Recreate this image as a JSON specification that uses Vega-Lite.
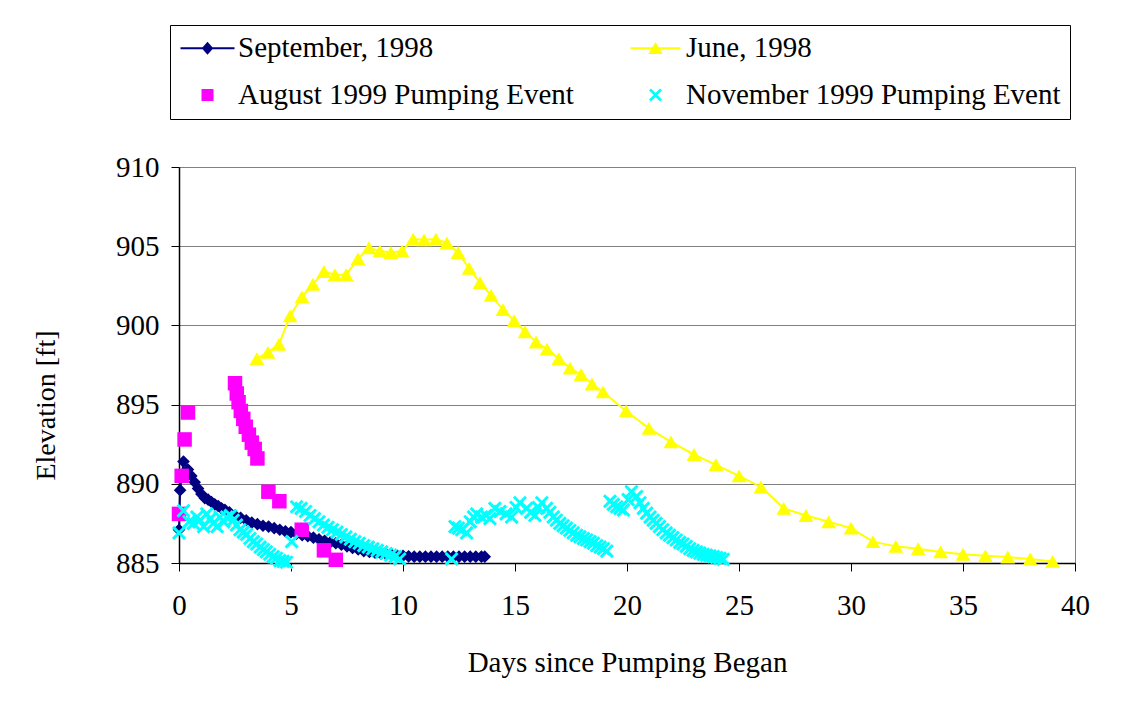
{
  "$schema": "https://vega.github.io/schema/vega-lite/v6.json",
  "width": 896,
  "height": 396,
  "autosize": {"type": "none"},
  "padding": {"left": 179, "top": 167, "right": 55, "bottom": 139},
  "background": "white",
  "config": {
    "font": "Liberation Serif",
    "view": {"stroke": "#808080", "strokeWidth": 1},
    "axis": {
      "labelFont": "Liberation Serif", "titleFont": "Liberation Serif",
      "labelColor": "black", "titleColor": "black",
      "labelFontSize": 29, "titleFontSize": 29, "titleFontWeight": "normal", "labelFlush": false,
      "domainColor": "black", "domainWidth": 1.5, "tickColor": "black", "tickSize": 8, "tickWidth": 1
    }
  },
  "data": {"values": [
    {"series": "September, 1998", "day": 0.0, "elev": 887.1},
    {"series": "September, 1998", "day": 0.05, "elev": 889.6},
    {"series": "September, 1998", "day": 0.2, "elev": 891.4},
    {"series": "September, 1998", "day": 0.4, "elev": 890.9},
    {"series": "September, 1998", "day": 0.55, "elev": 890.5},
    {"series": "September, 1998", "day": 0.7, "elev": 890.1},
    {"series": "September, 1998", "day": 0.85, "elev": 889.7},
    {"series": "September, 1998", "day": 1.0, "elev": 889.35},
    {"series": "September, 1998", "day": 1.15, "elev": 889.1},
    {"series": "September, 1998", "day": 1.3, "elev": 889.0},
    {"series": "September, 1998", "day": 1.45, "elev": 888.85},
    {"series": "September, 1998", "day": 1.6, "elev": 888.7},
    {"series": "September, 1998", "day": 1.75, "elev": 888.6},
    {"series": "September, 1998", "day": 1.9, "elev": 888.45},
    {"series": "September, 1998", "day": 2.05, "elev": 888.35},
    {"series": "September, 1998", "day": 2.25, "elev": 888.2},
    {"series": "September, 1998", "day": 2.5, "elev": 888.0},
    {"series": "September, 1998", "day": 2.75, "elev": 887.85},
    {"series": "September, 1998", "day": 3.0, "elev": 887.7},
    {"series": "September, 1998", "day": 3.25, "elev": 887.55},
    {"series": "September, 1998", "day": 3.5, "elev": 887.45},
    {"series": "September, 1998", "day": 3.75, "elev": 887.35},
    {"series": "September, 1998", "day": 4.0, "elev": 887.3},
    {"series": "September, 1998", "day": 4.25, "elev": 887.2},
    {"series": "September, 1998", "day": 4.5, "elev": 887.1},
    {"series": "September, 1998", "day": 4.75, "elev": 887.0},
    {"series": "September, 1998", "day": 5.0, "elev": 886.95},
    {"series": "September, 1998", "day": 5.25, "elev": 886.85},
    {"series": "September, 1998", "day": 5.5, "elev": 886.75},
    {"series": "September, 1998", "day": 5.75, "elev": 886.7},
    {"series": "September, 1998", "day": 6.0, "elev": 886.6},
    {"series": "September, 1998", "day": 6.25, "elev": 886.5},
    {"series": "September, 1998", "day": 6.5, "elev": 886.4},
    {"series": "September, 1998", "day": 6.75, "elev": 886.3},
    {"series": "September, 1998", "day": 7.0, "elev": 886.25},
    {"series": "September, 1998", "day": 7.25, "elev": 886.15},
    {"series": "September, 1998", "day": 7.5, "elev": 886.05},
    {"series": "September, 1998", "day": 7.75, "elev": 885.95},
    {"series": "September, 1998", "day": 8.0, "elev": 885.85},
    {"series": "September, 1998", "day": 8.25, "elev": 885.75},
    {"series": "September, 1998", "day": 8.5, "elev": 885.7},
    {"series": "September, 1998", "day": 8.75, "elev": 885.65},
    {"series": "September, 1998", "day": 9.0, "elev": 885.6},
    {"series": "September, 1998", "day": 9.25, "elev": 885.55},
    {"series": "September, 1998", "day": 9.5, "elev": 885.5},
    {"series": "September, 1998", "day": 9.75, "elev": 885.45},
    {"series": "September, 1998", "day": 10.0, "elev": 885.45},
    {"series": "September, 1998", "day": 10.25, "elev": 885.42},
    {"series": "September, 1998", "day": 10.5, "elev": 885.4},
    {"series": "September, 1998", "day": 10.75, "elev": 885.4},
    {"series": "September, 1998", "day": 11.0, "elev": 885.4},
    {"series": "September, 1998", "day": 11.25, "elev": 885.4},
    {"series": "September, 1998", "day": 11.5, "elev": 885.4},
    {"series": "September, 1998", "day": 11.75, "elev": 885.4},
    {"series": "September, 1998", "day": 12.0, "elev": 885.4},
    {"series": "September, 1998", "day": 12.25, "elev": 885.4},
    {"series": "September, 1998", "day": 12.5, "elev": 885.4},
    {"series": "September, 1998", "day": 12.75, "elev": 885.4},
    {"series": "September, 1998", "day": 13.0, "elev": 885.4},
    {"series": "September, 1998", "day": 13.25, "elev": 885.4},
    {"series": "September, 1998", "day": 13.5, "elev": 885.4},
    {"series": "September, 1998", "day": 13.65, "elev": 885.4},
    {"series": "June, 1998", "day": 3.48, "elev": 897.9},
    {"series": "June, 1998", "day": 3.97, "elev": 898.3},
    {"series": "June, 1998", "day": 4.46, "elev": 898.8},
    {"series": "June, 1998", "day": 4.96, "elev": 900.6},
    {"series": "June, 1998", "day": 5.49, "elev": 901.8},
    {"series": "June, 1998", "day": 5.98, "elev": 902.6},
    {"series": "June, 1998", "day": 6.47, "elev": 903.4},
    {"series": "June, 1998", "day": 6.96, "elev": 903.2},
    {"series": "June, 1998", "day": 7.46, "elev": 903.2},
    {"series": "June, 1998", "day": 7.99, "elev": 904.2},
    {"series": "June, 1998", "day": 8.48, "elev": 904.9},
    {"series": "June, 1998", "day": 8.97, "elev": 904.7},
    {"series": "June, 1998", "day": 9.46, "elev": 904.6},
    {"series": "June, 1998", "day": 9.96, "elev": 904.7},
    {"series": "June, 1998", "day": 10.45, "elev": 905.45},
    {"series": "June, 1998", "day": 10.94, "elev": 905.4},
    {"series": "June, 1998", "day": 11.47, "elev": 905.45},
    {"series": "June, 1998", "day": 11.96, "elev": 905.2},
    {"series": "June, 1998", "day": 12.46, "elev": 904.6},
    {"series": "June, 1998", "day": 12.95, "elev": 903.6},
    {"series": "June, 1998", "day": 13.44, "elev": 902.7},
    {"series": "June, 1998", "day": 13.93, "elev": 901.9},
    {"series": "June, 1998", "day": 14.46, "elev": 901.0},
    {"series": "June, 1998", "day": 14.96, "elev": 900.3},
    {"series": "June, 1998", "day": 15.45, "elev": 899.6},
    {"series": "June, 1998", "day": 15.94, "elev": 898.95},
    {"series": "June, 1998", "day": 16.43, "elev": 898.5},
    {"series": "June, 1998", "day": 16.96, "elev": 897.9},
    {"series": "June, 1998", "day": 17.46, "elev": 897.3},
    {"series": "June, 1998", "day": 17.95, "elev": 896.9},
    {"series": "June, 1998", "day": 18.44, "elev": 896.3},
    {"series": "June, 1998", "day": 18.93, "elev": 895.8},
    {"series": "June, 1998", "day": 19.96, "elev": 894.6},
    {"series": "June, 1998", "day": 20.98, "elev": 893.5},
    {"series": "June, 1998", "day": 21.96, "elev": 892.65},
    {"series": "June, 1998", "day": 22.99, "elev": 891.85},
    {"series": "June, 1998", "day": 23.97, "elev": 891.2},
    {"series": "June, 1998", "day": 25.0, "elev": 890.5},
    {"series": "June, 1998", "day": 25.98, "elev": 889.8},
    {"series": "June, 1998", "day": 27.0, "elev": 888.45},
    {"series": "June, 1998", "day": 27.99, "elev": 888.0},
    {"series": "June, 1998", "day": 29.0, "elev": 887.6},
    {"series": "June, 1998", "day": 30.0, "elev": 887.2},
    {"series": "June, 1998", "day": 30.98, "elev": 886.35},
    {"series": "June, 1998", "day": 32.0, "elev": 886.05},
    {"series": "June, 1998", "day": 33.0, "elev": 885.9},
    {"series": "June, 1998", "day": 34.0, "elev": 885.7},
    {"series": "June, 1998", "day": 35.0, "elev": 885.55},
    {"series": "June, 1998", "day": 36.0, "elev": 885.45},
    {"series": "June, 1998", "day": 37.0, "elev": 885.38},
    {"series": "June, 1998", "day": 38.0, "elev": 885.25},
    {"series": "June, 1998", "day": 39.0, "elev": 885.1},
    {"series": "August 1999 Pumping Event", "day": 0.0, "elev": 888.1},
    {"series": "August 1999 Pumping Event", "day": 0.12, "elev": 890.5},
    {"series": "August 1999 Pumping Event", "day": 0.25, "elev": 892.8},
    {"series": "August 1999 Pumping Event", "day": 0.4, "elev": 894.5},
    {"series": "August 1999 Pumping Event", "day": 2.5, "elev": 896.35},
    {"series": "August 1999 Pumping Event", "day": 2.58, "elev": 895.7},
    {"series": "August 1999 Pumping Event", "day": 2.66, "elev": 895.15},
    {"series": "August 1999 Pumping Event", "day": 2.76, "elev": 894.6},
    {"series": "August 1999 Pumping Event", "day": 2.87, "elev": 894.1},
    {"series": "August 1999 Pumping Event", "day": 2.98, "elev": 893.6},
    {"series": "August 1999 Pumping Event", "day": 3.12, "elev": 893.1},
    {"series": "August 1999 Pumping Event", "day": 3.25, "elev": 892.6},
    {"series": "August 1999 Pumping Event", "day": 3.38, "elev": 892.2},
    {"series": "August 1999 Pumping Event", "day": 3.5, "elev": 891.6},
    {"series": "August 1999 Pumping Event", "day": 3.99, "elev": 889.5},
    {"series": "August 1999 Pumping Event", "day": 4.48, "elev": 888.9},
    {"series": "August 1999 Pumping Event", "day": 5.48, "elev": 887.1},
    {"series": "August 1999 Pumping Event", "day": 6.47, "elev": 885.8},
    {"series": "August 1999 Pumping Event", "day": 7.0, "elev": 885.2},
    {"series": "November 1999 Pumping Event", "day": 0.0, "elev": 886.9},
    {"series": "November 1999 Pumping Event", "day": 0.2, "elev": 888.3},
    {"series": "November 1999 Pumping Event", "day": 0.45, "elev": 887.6},
    {"series": "November 1999 Pumping Event", "day": 0.64, "elev": 887.5},
    {"series": "November 1999 Pumping Event", "day": 0.8, "elev": 887.9},
    {"series": "November 1999 Pumping Event", "day": 0.94, "elev": 887.7},
    {"series": "November 1999 Pumping Event", "day": 1.1, "elev": 887.3},
    {"series": "November 1999 Pumping Event", "day": 1.24, "elev": 888.1},
    {"series": "November 1999 Pumping Event", "day": 1.4, "elev": 887.8},
    {"series": "November 1999 Pumping Event", "day": 1.53, "elev": 887.5},
    {"series": "November 1999 Pumping Event", "day": 1.7, "elev": 887.3},
    {"series": "November 1999 Pumping Event", "day": 1.83, "elev": 887.9},
    {"series": "November 1999 Pumping Event", "day": 2.0, "elev": 887.6},
    {"series": "November 1999 Pumping Event", "day": 2.13, "elev": 887.9},
    {"series": "November 1999 Pumping Event", "day": 2.3, "elev": 888.0},
    {"series": "November 1999 Pumping Event", "day": 2.42, "elev": 887.7},
    {"series": "November 1999 Pumping Event", "day": 2.57, "elev": 887.4},
    {"series": "November 1999 Pumping Event", "day": 2.72, "elev": 887.1},
    {"series": "November 1999 Pumping Event", "day": 2.87, "elev": 886.95},
    {"series": "November 1999 Pumping Event", "day": 3.02, "elev": 886.8},
    {"series": "November 1999 Pumping Event", "day": 3.17, "elev": 886.55},
    {"series": "November 1999 Pumping Event", "day": 3.32, "elev": 886.35},
    {"series": "November 1999 Pumping Event", "day": 3.47, "elev": 886.2},
    {"series": "November 1999 Pumping Event", "day": 3.62, "elev": 886.0},
    {"series": "November 1999 Pumping Event", "day": 3.77, "elev": 885.85},
    {"series": "November 1999 Pumping Event", "day": 3.9, "elev": 885.7},
    {"series": "November 1999 Pumping Event", "day": 4.05, "elev": 885.55},
    {"series": "November 1999 Pumping Event", "day": 4.2, "elev": 885.4},
    {"series": "November 1999 Pumping Event", "day": 4.35, "elev": 885.3},
    {"series": "November 1999 Pumping Event", "day": 4.5, "elev": 885.15},
    {"series": "November 1999 Pumping Event", "day": 4.65, "elev": 885.1},
    {"series": "November 1999 Pumping Event", "day": 4.8, "elev": 885.05},
    {"series": "November 1999 Pumping Event", "day": 5.03, "elev": 886.35},
    {"series": "November 1999 Pumping Event", "day": 5.25, "elev": 888.55},
    {"series": "November 1999 Pumping Event", "day": 5.45, "elev": 888.45},
    {"series": "November 1999 Pumping Event", "day": 5.65, "elev": 888.25},
    {"series": "November 1999 Pumping Event", "day": 5.85, "elev": 888.0},
    {"series": "November 1999 Pumping Event", "day": 6.05, "elev": 887.8},
    {"series": "November 1999 Pumping Event", "day": 6.25, "elev": 887.6},
    {"series": "November 1999 Pumping Event", "day": 6.45, "elev": 887.4},
    {"series": "November 1999 Pumping Event", "day": 6.65, "elev": 887.25},
    {"series": "November 1999 Pumping Event", "day": 6.85, "elev": 887.1},
    {"series": "November 1999 Pumping Event", "day": 7.05, "elev": 886.95},
    {"series": "November 1999 Pumping Event", "day": 7.25, "elev": 886.8},
    {"series": "November 1999 Pumping Event", "day": 7.45, "elev": 886.65},
    {"series": "November 1999 Pumping Event", "day": 7.65, "elev": 886.5},
    {"series": "November 1999 Pumping Event", "day": 7.85, "elev": 886.35},
    {"series": "November 1999 Pumping Event", "day": 8.05, "elev": 886.25},
    {"series": "November 1999 Pumping Event", "day": 8.25, "elev": 886.1},
    {"series": "November 1999 Pumping Event", "day": 8.45, "elev": 886.0},
    {"series": "November 1999 Pumping Event", "day": 8.65, "elev": 885.9},
    {"series": "November 1999 Pumping Event", "day": 8.85, "elev": 885.8},
    {"series": "November 1999 Pumping Event", "day": 9.05, "elev": 885.7},
    {"series": "November 1999 Pumping Event", "day": 9.25, "elev": 885.6},
    {"series": "November 1999 Pumping Event", "day": 9.45, "elev": 885.5},
    {"series": "November 1999 Pumping Event", "day": 9.65, "elev": 885.4},
    {"series": "November 1999 Pumping Event", "day": 9.85, "elev": 885.25},
    {"series": "November 1999 Pumping Event", "day": 12.17, "elev": 885.25},
    {"series": "November 1999 Pumping Event", "day": 12.32, "elev": 887.3},
    {"series": "November 1999 Pumping Event", "day": 12.47, "elev": 887.2},
    {"series": "November 1999 Pumping Event", "day": 12.62, "elev": 887.1},
    {"series": "November 1999 Pumping Event", "day": 12.84, "elev": 886.9},
    {"series": "November 1999 Pumping Event", "day": 13.0, "elev": 887.6},
    {"series": "November 1999 Pumping Event", "day": 13.15, "elev": 887.9},
    {"series": "November 1999 Pumping Event", "day": 13.29, "elev": 888.1},
    {"series": "November 1999 Pumping Event", "day": 13.51, "elev": 887.9},
    {"series": "November 1999 Pumping Event", "day": 13.7, "elev": 888.0},
    {"series": "November 1999 Pumping Event", "day": 13.88, "elev": 887.8},
    {"series": "November 1999 Pumping Event", "day": 14.1, "elev": 888.45},
    {"series": "November 1999 Pumping Event", "day": 14.33, "elev": 888.25},
    {"series": "November 1999 Pumping Event", "day": 14.6, "elev": 888.1},
    {"series": "November 1999 Pumping Event", "day": 14.85, "elev": 887.9},
    {"series": "November 1999 Pumping Event", "day": 15.05, "elev": 888.5},
    {"series": "November 1999 Pumping Event", "day": 15.22, "elev": 888.8},
    {"series": "November 1999 Pumping Event", "day": 15.52, "elev": 888.45},
    {"series": "November 1999 Pumping Event", "day": 15.7, "elev": 888.2},
    {"series": "November 1999 Pumping Event", "day": 15.89, "elev": 888.0},
    {"series": "November 1999 Pumping Event", "day": 16.05, "elev": 888.5},
    {"series": "November 1999 Pumping Event", "day": 16.2, "elev": 888.8},
    {"series": "November 1999 Pumping Event", "day": 16.41, "elev": 888.45},
    {"series": "November 1999 Pumping Event", "day": 16.56, "elev": 888.2},
    {"series": "November 1999 Pumping Event", "day": 16.71, "elev": 887.9},
    {"series": "November 1999 Pumping Event", "day": 16.85, "elev": 887.7},
    {"series": "November 1999 Pumping Event", "day": 17.0, "elev": 887.5},
    {"series": "November 1999 Pumping Event", "day": 17.15, "elev": 887.35},
    {"series": "November 1999 Pumping Event", "day": 17.3, "elev": 887.2},
    {"series": "November 1999 Pumping Event", "day": 17.45, "elev": 887.05},
    {"series": "November 1999 Pumping Event", "day": 17.6, "elev": 886.9},
    {"series": "November 1999 Pumping Event", "day": 17.75, "elev": 886.75},
    {"series": "November 1999 Pumping Event", "day": 17.9, "elev": 886.65},
    {"series": "November 1999 Pumping Event", "day": 18.05, "elev": 886.55},
    {"series": "November 1999 Pumping Event", "day": 18.2, "elev": 886.45},
    {"series": "November 1999 Pumping Event", "day": 18.35, "elev": 886.35},
    {"series": "November 1999 Pumping Event", "day": 18.5, "elev": 886.25},
    {"series": "November 1999 Pumping Event", "day": 18.65, "elev": 886.1},
    {"series": "November 1999 Pumping Event", "day": 18.8, "elev": 886.0},
    {"series": "November 1999 Pumping Event", "day": 18.95, "elev": 885.9},
    {"series": "November 1999 Pumping Event", "day": 19.1, "elev": 885.75},
    {"series": "November 1999 Pumping Event", "day": 19.24, "elev": 888.9},
    {"series": "November 1999 Pumping Event", "day": 19.39, "elev": 888.7},
    {"series": "November 1999 Pumping Event", "day": 19.54, "elev": 888.55},
    {"series": "November 1999 Pumping Event", "day": 19.69, "elev": 888.45},
    {"series": "November 1999 Pumping Event", "day": 19.84, "elev": 888.35},
    {"series": "November 1999 Pumping Event", "day": 20.05, "elev": 889.0},
    {"series": "November 1999 Pumping Event", "day": 20.2, "elev": 889.5},
    {"series": "November 1999 Pumping Event", "day": 20.43, "elev": 889.2},
    {"series": "November 1999 Pumping Event", "day": 20.58, "elev": 888.8},
    {"series": "November 1999 Pumping Event", "day": 20.73, "elev": 888.45},
    {"series": "November 1999 Pumping Event", "day": 20.88, "elev": 888.15},
    {"series": "November 1999 Pumping Event", "day": 21.03, "elev": 887.9},
    {"series": "November 1999 Pumping Event", "day": 21.17, "elev": 887.7},
    {"series": "November 1999 Pumping Event", "day": 21.3, "elev": 887.5},
    {"series": "November 1999 Pumping Event", "day": 21.45, "elev": 887.3},
    {"series": "November 1999 Pumping Event", "day": 21.6, "elev": 887.1},
    {"series": "November 1999 Pumping Event", "day": 21.75, "elev": 886.9},
    {"series": "November 1999 Pumping Event", "day": 21.9, "elev": 886.75},
    {"series": "November 1999 Pumping Event", "day": 22.05, "elev": 886.6},
    {"series": "November 1999 Pumping Event", "day": 22.2, "elev": 886.45},
    {"series": "November 1999 Pumping Event", "day": 22.35, "elev": 886.3},
    {"series": "November 1999 Pumping Event", "day": 22.5, "elev": 886.2},
    {"series": "November 1999 Pumping Event", "day": 22.65, "elev": 886.05},
    {"series": "November 1999 Pumping Event", "day": 22.8, "elev": 885.9},
    {"series": "November 1999 Pumping Event", "day": 22.95, "elev": 885.8},
    {"series": "November 1999 Pumping Event", "day": 23.1, "elev": 885.7},
    {"series": "November 1999 Pumping Event", "day": 23.25, "elev": 885.62},
    {"series": "November 1999 Pumping Event", "day": 23.4, "elev": 885.55},
    {"series": "November 1999 Pumping Event", "day": 23.55, "elev": 885.5},
    {"series": "November 1999 Pumping Event", "day": 23.7, "elev": 885.45},
    {"series": "November 1999 Pumping Event", "day": 23.85, "elev": 885.4},
    {"series": "November 1999 Pumping Event", "day": 24.0, "elev": 885.35},
    {"series": "November 1999 Pumping Event", "day": 24.15, "elev": 885.3},
    {"series": "November 1999 Pumping Event", "day": 24.3, "elev": 885.23}
  ]},
  "encoding": {
    "x": {"field": "day", "type": "quantitative", "scale": {"domain": [0, 40], "nice": false},
      "axis": {"values": [0, 5, 10, 15, 20, 25, 30, 35, 40], "grid": false, "labelPadding": 20,
        "title": "Days since Pumping Began", "titleBaseline": "alphabetic", "titleAlign": "center", "titleX": 448, "titleY": 108}},
    "y": {"field": "elev", "type": "quantitative", "scale": {"domain": [885, 910], "nice": false, "zero": false},
      "axis": {"values": [885, 890, 895, 900, 905, 910], "grid": true, "gridColor": "#808080", "gridWidth": 1, "labelPadding": 12,
        "title": "Elevation [ft]", "titleFontSize": 28, "titleAngle": -90, "titleAlign": "center", "titleBaseline": "alphabetic", "titleX": -125, "titleY": 238}}
  },
  "layer": [
    {
      "transform": [{"filter": "datum.series === 'September, 1998'"}],
      "mark": {"type": "line", "strokeWidth": 2, "color": "#000080"}
    },
    {
      "transform": [{"filter": "datum.series === 'June, 1998'"}],
      "mark": {"type": "line", "strokeWidth": 2, "color": "#FFFF00"}
    },
    {
      "transform": [{"filter": "datum.series === 'September, 1998'"}],
      "mark": {"type": "point", "shape": "diamond", "filled": true, "opacity": 1, "color": "#000080", "size": 160}
    },
    {
      "transform": [{"filter": "datum.series === 'June, 1998'"}],
      "mark": {"type": "point", "shape": "triangle-up", "filled": true, "opacity": 1, "color": "#FFFF00", "size": 220}
    },
    {
      "transform": [{"filter": "datum.series === 'August 1999 Pumping Event'"}],
      "mark": {"type": "point", "shape": "square", "filled": true, "opacity": 1, "color": "#FF00FF", "size": 210}
    },
    {
      "transform": [{"filter": "datum.series === 'November 1999 Pumping Event'"}],
      "mark": {"type": "point", "shape": "M-1,-0.7L-0.3,0L-1,0.7L-0.7,1L0,0.3L0.7,1L1,0.7L0.3,0L1,-0.7L0.7,-1L0,-0.3L-0.7,-1Z", "filled": true, "opacity": 1, "color": "#00FFFF", "size": 200}
    },
    {
      "transform": [{"filter": "false"}],
      "mark": {"type": "point", "filled": true, "opacity": 1},
      "encoding": {
        "color": {"field": "series", "type": "nominal",
          "scale": {"domain": ["September, 1998", "June, 1998", "August 1999 Pumping Event", "November 1999 Pumping Event"],
            "range": ["#000080", "#FFFF00", "#FF00FF", "#00FFFF"]},
          "legend": {
            "title": null, "orient": "none", "legendX": -9, "legendY": -142,
            "direction": "horizontal", "columns": 2, "columnPadding": 52, "rowPadding": 17,
            "padding": 8.5, "strokeColor": "black", "fillColor": "white",
            "labelFont": "Liberation Serif", "labelFontSize": 29, "labelColor": "black", "labelLimit": 600,
            "symbolSize": 100, "symbolOffset": 14.5, "labelOffset": 16, "symbolStrokeWidth": 0, "symbolOpacity": 1
          }},
        "shape": {"field": "series", "type": "nominal",
          "scale": {"domain": ["September, 1998", "June, 1998", "August 1999 Pumping Event", "November 1999 Pumping Event"],
            "range": [
              "M-5.4,-0.2L5.4,-0.2L5.4,0.2L-5.4,0.2Z M0,-1.3L1.15,0L0,1.3L-1.15,0Z",
              "M-5,-0.2L5,-0.2L5,0.2L-5,0.2Z M0,-1.25L1.45,1.15L-1.45,1.15Z",
              "M-1.2,-1.2L1.2,-1.2L1.2,1.2L-1.2,1.2Z",
              "M-1.3,-0.91L-0.39,0L-1.3,0.91L-0.91,1.3L0,0.39L0.91,1.3L1.3,0.91L0.39,0L1.3,-0.91L0.91,-1.3L0,-0.39L-0.91,-1.3Z"
            ]},
          "legend": {
            "title": null, "orient": "none", "legendX": -9, "legendY": -142,
            "direction": "horizontal", "columns": 2, "columnPadding": 52, "rowPadding": 17,
            "padding": 8.5, "strokeColor": "black", "fillColor": "white",
            "labelFont": "Liberation Serif", "labelFontSize": 29, "labelColor": "black", "labelLimit": 600,
            "symbolSize": 100, "symbolOffset": 14.5, "labelOffset": 16, "symbolStrokeWidth": 0, "symbolOpacity": 1
          }}
      }
    }
  ]
}
